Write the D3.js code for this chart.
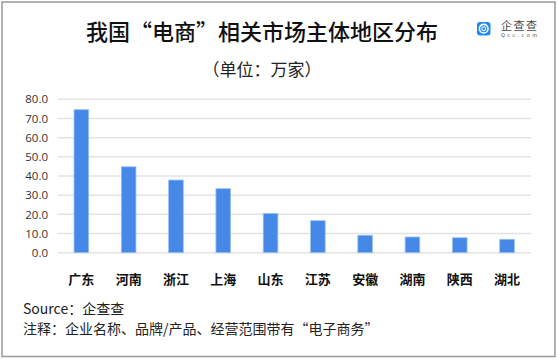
<!DOCTYPE html>
<html><head><meta charset="utf-8">
<script src="https://cdn.jsdelivr.net/npm/d3@7"></script>
<style>body{margin:0;background:#fff}svg{display:block}</style>
</head><body><svg id="c" width="558" height="360"></svg>
<script>
const categories = ["广东","河南","浙江","上海","山东","江苏","安徽","湖南","陕西","湖北"];
const values = [74.6, 44.8, 37.9, 33.4, 20.5, 16.7, 9.1, 8.2, 7.8, 7.0];
const yTicks = [0,10,20,30,40,50,60,70,80];
const title = "我国“电商”相关市场主体地区分布";
const subtitle = "（单位：万家）";
const source = "Source：企查查";
const note = "注释：企业名称、品牌/产品、经营范围带有“电子商务”";

const svg = d3.select("#c");
const font = "'Noto Sans CJK SC','Noto Sans',sans-serif";
svg.append("rect").attr("x",2).attr("y",2).attr("width",553).attr("height",354.5)
  .attr("fill","#fff").attr("stroke","#999").attr("stroke-width",1.5);

const x = d3.scaleBand().domain(categories).range([57.7,530.7]).paddingInner(0.69).paddingOuter(0.345);
const y = d3.scaleLinear().domain([0,80]).range([252.7,99.3]);

const g = svg.append("g");
g.selectAll("line.grid").data(yTicks).join("line").attr("class","grid")
  .attr("x1",57.7).attr("x2",530.7).attr("y1",d=>y(d)).attr("y2",d=>y(d))
  .attr("stroke","#e3e3e3").attr("stroke-width",1.5);

const yAxis = d3.axisLeft(y).tickValues(yTicks).tickFormat(d3.format(".1f")).tickSize(0).tickPadding(0);
const ya = svg.append("g").attr("transform","translate(48,0)").call(yAxis);
ya.select(".domain").remove();
ya.selectAll("text").attr("font-family","'Open Sans','Noto Sans',sans-serif").attr("font-size",11.5).attr("fill","#333");

g.selectAll("rect.bar").data(values).join("rect").attr("class","bar")
  .attr("x",(d,i)=>x(categories[i])).attr("width",x.bandwidth())
  .attr("y",d=>y(d)).attr("height",d=>y(0)-y(d))
  .attr("fill","#4688e8").attr("stroke","#9cc2f3").attr("stroke-width",0.8);

const xAxis = d3.axisBottom(x).tickSize(0).tickPadding(0);
const xa = svg.append("g").attr("transform","translate(0,275)").call(xAxis);
xa.select(".domain").remove();
xa.selectAll("text").attr("font-family",font).attr("font-size",13).attr("font-weight",700).attr("fill","#111");

svg.append("text").attr("x",262).attr("y",40).attr("text-anchor","middle")
  .attr("font-family",font).attr("font-size",22).attr("font-weight",500).attr("fill","#111").text(title);
svg.append("text").attr("x",262).attr("y",76).attr("text-anchor","middle")
  .attr("font-family",font).attr("font-size",17).attr("fill","#222").text(subtitle);

// logo
const lg = svg.append("g");
lg.append("rect").attr("x",477).attr("y",22).attr("width",13.5).attr("height",13.5).attr("rx",3).attr("fill","#1e88f0");
lg.append("circle").attr("cx",483.7).attr("cy",28.7).attr("r",4.3).attr("fill","none").attr("stroke","#fff").attr("stroke-width",1.6);
lg.append("circle").attr("cx",483.7).attr("cy",28.7).attr("r",1.9).attr("fill","none").attr("stroke","#fff").attr("stroke-width",1.1);
lg.append("text").attr("x",501).attr("y",30).attr("font-family",font).attr("font-size",11).attr("fill","#444").attr("textLength",36).text("企查查");
lg.append("text").attr("x",501).attr("y",36.5).attr("font-family","'DejaVu Sans',sans-serif").attr("font-size",5).attr("fill","#444").attr("textLength",36).text("Qcc.com");

svg.append("text").attr("x",23).attr("y",314).attr("font-family",font).attr("font-size",14).attr("fill","#222").text(source);
svg.append("text").attr("x",23).attr("y",334).attr("font-family",font).attr("font-size",14).attr("fill","#222").text(note);
</script></body></html>
